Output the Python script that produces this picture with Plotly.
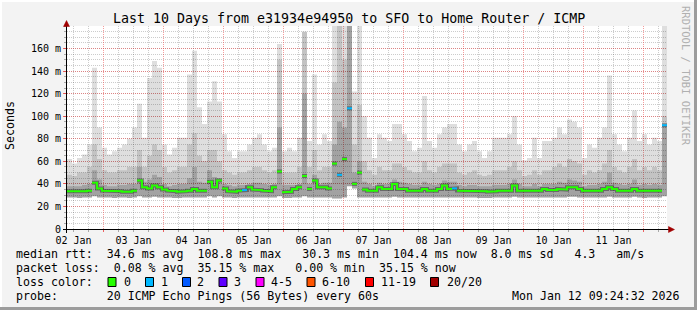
import plotly.graph_objects as go
import pandas as pd

# ---------------- data (2-hour columns) ----------------
start_time = "2026-01-02 09:24:32"
end_time = "2026-01-12 09:24:32"
step = "2h"

rtt_median = [
    33.5, 33.5, 33, 33.5, 34, 41, 36, 34, 33.5, 33.5, 33.5, 33, 33, 34, 43, 37, 36, 38.5, 37, 35,
    34, 33.5, 33, 33.5, 34, 35.5, 34, 34, 42, 37,
    43, 36, 33.5, 33, 34, 34.5, 37, 35, 34.5, 34, 33.5, 37, 51, 32.5, 33, 35.5, 37, 47, 35.5, 43,
    37, 37, 36, 58, 48, 62, 107, 40, 50, 35,
    34, 34, 37, 35.5, 35.5, 40, 35.5, 35.5, 34, 34, 34, 35.5, 34, 34, 35.5, 38.5, 35.5, 36, 34, 34,
    34, 34, 33.4, 33.4, 33, 33.4, 34, 34, 34, 38.5,
    34, 34, 34, 34, 34, 35.5, 34.5, 34.5, 35.5, 35, 37, 37, 35.5, 34, 34, 34, 34, 35.5, 37, 35.5,
    34, 34, 34, 35.5, 34, 33.4, 34, 34, 34, 92,
]
rtt_max = [
    62, 58, 63, 66, 75, 143, 90, 72, 66, 69, 72, 75, 80, 90, 111, 81, 134, 149, 143, 75,
    66, 72, 81, 81, 137, 158, 108, 93, 113, 131,
    113, 84, 69, 63, 69, 69, 75, 81, 84, 75, 69, 72, 164, 69, 72, 69, 81, 175, 78, 137,
    75, 84, 78, 180, 180, 180, 180, 122, 180, 100,
    81, 63, 84, 81, 78, 93, 93, 84, 78, 69, 72, 118, 78, 72, 84, 90, 93, 93, 75, 69,
    75, 78, 69, 63, 69, 81, 81, 81, 84, 100,
    75, 61, 63, 81, 63, 78, 78, 81, 90, 84, 97, 95, 90, 63, 75, 72, 81, 90, 136, 84,
    75, 69, 81, 105, 78, 84, 75, 81, 78, 180,
]
rtt_p90 = [
    48, 47, 50, 50, 55, 75, 62, 52, 50, 50, 52, 52, 55, 55, 70, 55, 65, 75, 70, 55,
    50, 52, 55, 55, 75, 85, 65, 60, 70, 70,
    60, 52, 50, 48, 50, 50, 52, 55, 55, 52, 50, 52, 150, 50, 50, 50, 55, 175, 55, 70,
    52, 55, 55, 130, 180, 150, 180, 75, 110, 60,
    52, 48, 55, 52, 52, 58, 58, 55, 52, 50, 50, 60, 52, 50, 55, 58, 58, 58, 50, 48,
    50, 52, 48, 47, 48, 52, 52, 52, 55, 60,
    52, 47, 48, 52, 48, 52, 52, 55, 58, 55, 62, 60, 58, 48, 52, 50, 52, 58, 70, 55,
    52, 50, 55, 62, 52, 55, 52, 55, 52, 100,
]
rtt_p75 = [
    38, 38, 38, 39, 40, 52, 44, 39, 38, 38, 39, 39, 40, 40, 55, 42, 44, 48, 46, 40,
    38, 39, 40, 40, 45, 55, 42, 41, 52, 46,
    45, 40, 39, 38, 39, 39, 40, 41, 41, 40, 39, 40, 90, 39, 39, 39, 40, 120, 40, 48,
    40, 41, 41, 75, 95, 90, 180, 50, 60, 42,
    40, 38, 41, 40, 40, 44, 42, 41, 40, 39, 39, 42, 40, 39, 40, 43, 42, 42, 39, 38,
    39, 39, 38, 38, 38, 39, 39, 39, 40, 44,
    40, 38, 38, 40, 38, 40, 40, 40, 42, 41, 44, 43, 42, 38, 39, 39, 40, 42, 50, 41,
    40, 39, 40, 44, 39, 40, 39, 40, 39, 92,
]
rtt_min = [
    28, 28, 27.5, 28, 28, 29, 28, 28, 28, 27.5, 28, 28, 27.5, 28, 29, 28, 28, 28.5, 28, 28,
    28, 27.5, 27.5, 28, 28, 28, 28, 28, 29, 28,
    29, 28, 28, 27.5, 28, 28, 28, 28, 28, 28, 28, 28, 29, 27.5, 27.5, 28, 28, 29, 28, 28,
    28, 28, 28, 27, 27, 28, 38, 36, 28, 28,
    28, 28, 28, 28, 28, 28.5, 28, 28, 28, 28, 28, 28, 28, 28, 28, 28, 28, 28, 28, 28,
    28, 28, 27.5, 27.5, 27.5, 28, 28, 28, 28, 28.5,
    28, 28, 28, 28, 28, 28, 28, 28, 28, 28, 28.5, 28.5, 28, 28, 28, 28, 28, 28, 28.5, 28,
    28, 28, 28, 28.5, 28, 27.5, 28, 28, 28, 29,
]
# lost pings out of 20 per column
loss = [0] * 120
for idx in (35, 54, 56, 77, 119):
    loss[idx] = 1

loss_labels = ["0", "1", "2", "3", "4-5", "6-10", "11-19", "20/20"]
loss_colors = ["#26ff00", "#00b8ff", "#0059ff", "#5e00ff", "#ff00ff", "#ff5500", "#ff0000", "#a10000"]
y_tick_vals = [0, 20, 40, 60, 80, 100, 120, 140, 160]
y_tick_text = ["0", "20 m", "40 m", "60 m", "80 m", "100 m", "120 m", "140 m", "160 m"]

title = "Last 10 Days from e31934e94950 to SFO to Home Router / ICMP"
legend_lines = [
    "median rtt:  34.6 ms avg  108.8 ms max   30.3 ms min  104.4 ms now  8.0 ms sd   4.3   am/s",
    "packet loss:  0.08 % avg  35.15 % max   0.00 % min  35.15 % now",
    "loss color:",
    "probe:       20 ICMP Echo Pings (56 Bytes) every 60s",
]
date_text = "Mon Jan 12 09:24:32 2026"

# ---------------- figure ----------------
W, H = 697, 310
L, R, T, B = 67, 30, 26, 81
PW, PH = W - L - R, H - T - B


def px(x):
    return (x - L) / PW


def py(y):
    return (T + PH - y) / PH


n = len(rtt_median)
times = pd.date_range(pd.Timestamp(start_time), periods=n + 1, freq=step)


def ext(a):
    return list(a) + [a[-1]]


fig = go.Figure()


def band(lo, hi, color):
    fig.add_trace(go.Scatter(x=times, y=ext(lo), mode="lines", line=dict(width=0, shape="hv"),
                             hoverinfo="skip", showlegend=False))
    fig.add_trace(go.Scatter(x=times, y=ext(hi), mode="lines", line=dict(width=0, shape="hv"),
                             fill="tonexty", fillcolor=color, hoverinfo="skip", showlegend=False))


band(rtt_min, rtt_max, "rgba(0,0,0,0.13)")
band(rtt_min, rtt_p90, "rgba(0,0,0,0.12)")
band(rtt_min, rtt_p75, "rgba(0,0,0,0.17)")


def loss_class(k):
    if k <= 3:
        return k
    if k <= 5:
        return 4
    if k <= 10:
        return 5
    if k <= 19:
        return 6
    return 7


def polyline(sel, max_jump=6):
    """Step line through the selected columns, broken at big jumps."""
    xs, ys = [], []
    prev = None
    for i in range(n):
        if not sel(i):
            if prev is not None:
                xs.append(None)
                ys.append(None)
            prev = None
            continue
        if prev is not None and abs(rtt_median[i] - prev) > max_jump:
            xs.append(None)
            ys.append(None)
        xs += [times[i], times[i + 1]]
        ys += [rtt_median[i], rtt_median[i]]
        prev = rtt_median[i]
    return xs, ys


# dark smoke right around the median
bx, by = polyline(lambda i: True)
fig.add_trace(go.Scatter(x=bx, y=by, mode="lines", line=dict(width=4, color="rgba(0,0,0,0.35)"),
                         hoverinfo="skip", showlegend=False))

for c in range(len(loss_colors)):
    xs, ys = polyline(lambda i, c=c: loss_class(loss[i]) == c)
    if any(v is not None for v in xs):
        fig.add_trace(go.Scatter(x=xs, y=ys, mode="lines", line=dict(width=2, color=loss_colors[c]),
                                 hoverinfo="skip", showlegend=False))

mono = "DejaVu Sans Mono"
red_grid = "rgba(235,60,60,0.5)"
gray_grid = "rgba(0,0,0,0.2)"

fig.update_layout(
    width=W, height=H, autosize=False,
    margin=dict(l=L, r=R, t=T, b=B, pad=0),
    paper_bgcolor="#f3f3f3", plot_bgcolor="#ffffff",
    font=dict(family=mono, size=10, color="#000"),
    showlegend=False,
    xaxis=dict(
        type="date", range=[start_time, end_time],
        tick0="2026-01-02 00:00:00", dtick=86400000, ticklabelmode="period",
        tickformat="%d %b", showgrid=True, gridcolor=red_grid, griddash="1px,1px", gridwidth=1,
        ticks="outside", ticklen=2, tickcolor="rgba(235,60,60,0.8)",
        showline=False, zeroline=False,
        tickfont=dict(family=mono, size=10, color="#000"),
        minor=dict(dtick=6 * 3600 * 1000, showgrid=True, gridcolor=gray_grid, griddash="1px,1px",
                   ticks="outside", ticklen=2, tickcolor="rgba(120,120,120,0.6)"),
    ),
    yaxis=dict(
        range=[0, 180], tickvals=y_tick_vals, ticktext=y_tick_text,
        showgrid=True, gridcolor=red_grid, griddash="1px,1px", gridwidth=1,
        ticks="outside", ticklen=3, tickcolor="rgba(235,60,60,0.8)",
        showline=False, zeroline=False,
        tickfont=dict(family=mono, size=10, color="#000"),
        minor=dict(dtick=5, showgrid=True, gridcolor=gray_grid, griddash="1px,1px",
                   ticks="outside", ticklen=2, tickcolor="rgba(120,120,120,0.6)"),
    ),
)

shapes = []
# 3D frame
shapes.append(dict(type="rect", xref="paper", yref="paper", x0=px(0), x1=px(W), y0=py(0), y1=py(2),
                   fillcolor="#ffffff", line=dict(width=0), layer="below"))
shapes.append(dict(type="rect", xref="paper", yref="paper", x0=px(0), x1=px(2), y0=py(0), y1=py(H),
                   fillcolor="#ffffff", line=dict(width=0), layer="below"))
shapes.append(dict(type="rect", xref="paper", yref="paper", x0=px(694), x1=px(W), y0=py(0), y1=py(H),
                   fillcolor="#9c9c9c", line=dict(width=0)))
shapes.append(dict(type="rect", xref="paper", yref="paper", x0=px(0), x1=px(W), y0=py(307), y1=py(H),
                   fillcolor="#9c9c9c", line=dict(width=0)))
# axes with arrows
shapes.append(dict(type="line", xref="paper", yref="paper", x0=px(63), x1=px(670), y0=py(229.5), y1=py(229.5),
                   line=dict(color="#000", width=1)))
shapes.append(dict(type="line", xref="paper", yref="paper", x0=px(66.5), x1=px(66.5), y0=py(233), y1=py(25),
                   line=dict(color="#000", width=1)))
arrow_col = "#a00000"
shapes.append(dict(type="path", xref="paper", yref="paper",
                   path=f"M {px(63.5)} {py(26.5)} L {px(69.5)} {py(26.5)} L {px(66.5)} {py(20.5)} Z",
                   fillcolor=arrow_col, line=dict(color=arrow_col, width=0.5)))
shapes.append(dict(type="path", xref="paper", yref="paper",
                   path=f"M {px(668.5)} {py(226.5)} L {px(668.5)} {py(232.5)} L {px(674.5)} {py(229.5)} Z",
                   fillcolor=arrow_col, line=dict(color=arrow_col, width=0.5)))

annotations = []


def text(x, y, s, size=11.6, anchor="left", color="#000", angle=0):
    annotations.append(dict(xref="paper", yref="paper", x=px(x), y=py(y), text=s.replace(" ", "\u00a0"),
                            showarrow=False, xanchor=anchor, yanchor="middle", textangle=angle,
                            font=dict(family=mono, size=size, color=color), borderpad=0))


text(348.5, 19, title, size=13.3, anchor="center")
text(10, 126, "Seconds", size=11.6, anchor="center", angle=-90)
text(686, 76, "RRDTOOL / TOBI OETIKER", size=10.5, anchor="center", color="#b0b0b0", angle=90)

legend_y = [254, 268, 282, 296]
for s, yy in zip(legend_lines, legend_y):
    text(15, yy, s)
text(681, 296, date_text, anchor="right")

box_x = [108, 145.5, 182.5, 219, 256, 307, 365.5, 430.5]
label_x = [122.5, 159.5, 196, 232.5, 270, 321, 380, 445.5]
for c, lab, bx_, lx in zip(loss_colors, loss_labels, box_x, label_x):
    shapes.append(dict(type="rect", xref="paper", yref="paper", x0=px(bx_), x1=px(bx_ + 8),
                       y0=py(286.5), y1=py(277.5), fillcolor=c, line=dict(color="#000", width=1)))
    text(lx, 282, lab)

fig.update_layout(shapes=shapes, annotations=annotations)
fig.write_html("out.html")
